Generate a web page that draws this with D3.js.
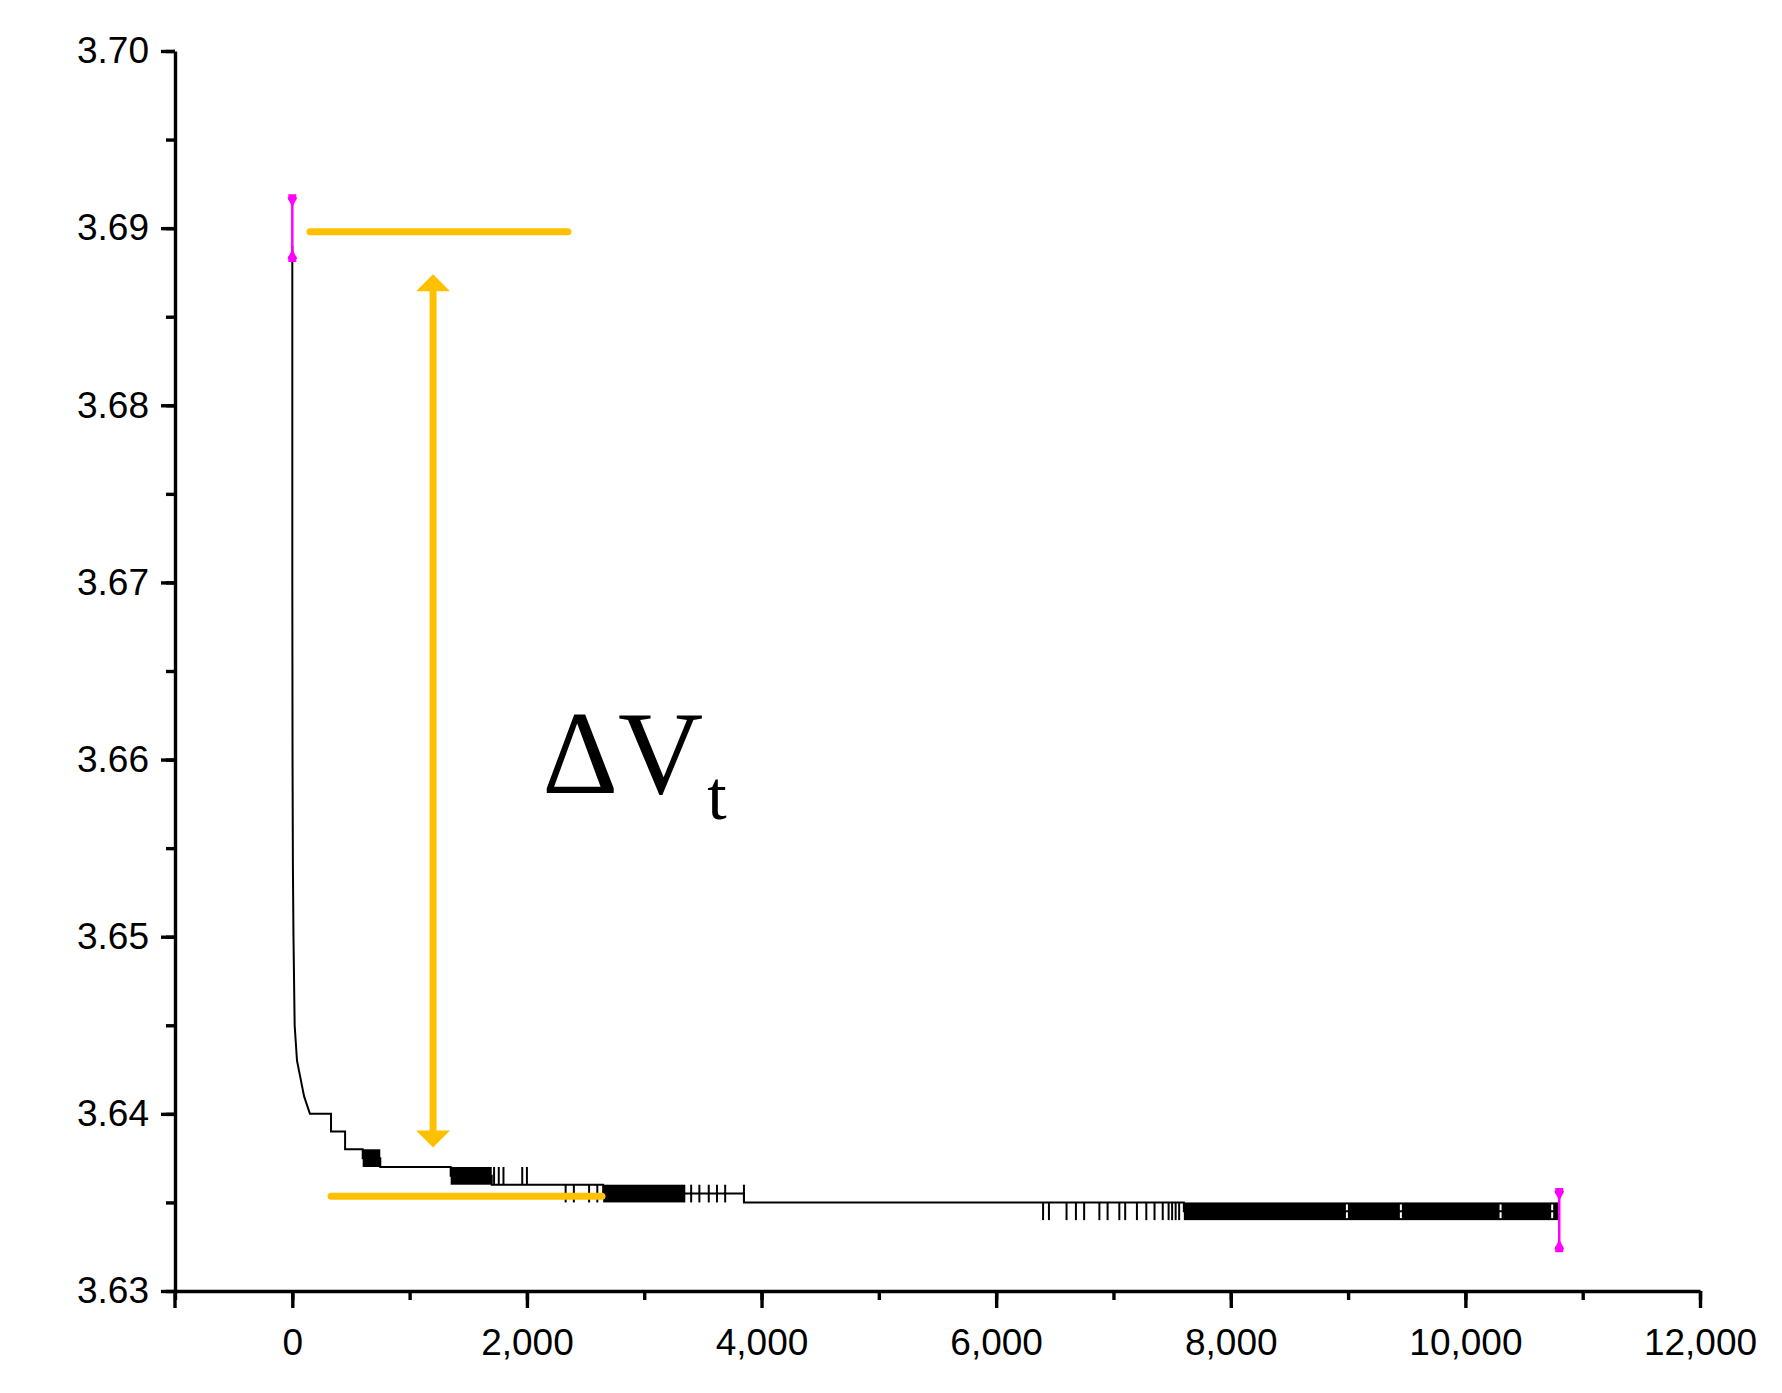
<!DOCTYPE html>
<html lang="en">
<head>
<meta charset="UTF-8">
<title>Voltage relaxation</title>
<script src="https://d3js.org/d3.v7.min.js"></script>
<style>
    body { margin: 0; background: #fff; }
    .axis path, .axis line { stroke: #000; stroke-width: 3.4px; }
    .axis text { font-family: "Liberation Sans", Arial, sans-serif; font-size: 37px; fill: #000; }
</style>
</head>
<body>
<svg id="chart" width="1782" height="1393"></svg>
<script>
// main stepped curve (time s, voltage V)
const curveTime = [0, 0, 2, 5, 10, 20, 40, 70, 100, 150, 200, 330, 330, 450, 450, 600, 600, 750, 750, 1350, 1350, 1700, 1700, 2650, 2650, 3850, 3850, 7600, 7600, 10800];
const curveVolt = [3.6890, 3.6700, 3.6600, 3.6540, 3.6500, 3.6450, 3.6430, 3.6420, 3.6410, 3.6400, 3.6400, 3.6400, 3.6390, 3.6390, 3.6380, 3.6380, 3.6375, 3.6375, 3.6370, 3.6370, 3.6365, 3.6365, 3.6360, 3.6360, 3.6355, 3.6355, 3.6350, 3.6350, 3.6345, 3.6345];
// dense toggling blocks: [start, end, upper level]
const blockStart = [600, 1350, 2650, 7600];
const blockEnd = [750, 1700, 3350, 10800];
const blockLevel = [3.638, 3.637, 3.636, 3.635];
// gaps (white) inside blocks
const gapTime = [8990, 9450, 10300, 10740];
const gapLevel = [3.635, 3.635, 3.635, 3.635];
// isolated spikes down by one step
const spikeTime = [1720, 1760, 1800, 1960, 2000, 2330, 2400, 2530, 2600, 3400, 3470, 3550, 3620, 3690, 3850,
    6400, 6450, 6600, 6680, 6750, 6880, 6950, 7050, 7100, 7200, 7280, 7350, 7420, 7470, 7500, 7530, 7560];
const spikeLevel = [3.637, 3.637, 3.637, 3.637, 3.637, 3.636, 3.636, 3.636, 3.636, 3.636, 3.636, 3.636, 3.636, 3.636, 3.636,
    3.635, 3.635, 3.635, 3.635, 3.635, 3.635, 3.635, 3.635, 3.635, 3.635, 3.635, 3.635, 3.635, 3.635, 3.635, 3.635, 3.635];
// magenta end markers
const markTime = [0, 10800];
const markLow = [3.6882, 3.6323];
const markHigh = [3.6918, 3.6357];
// orange annotation
const refLineX1 = [150, 330];
const refLineX2 = [2350, 2640];
const refLineY = [3.6898, 3.63535];
const arrowX = 1200, arrowTop = 3.6874, arrowBottom = 3.6381;

const xTicks = [0, 2000, 4000, 6000, 8000, 10000, 12000];
const yTicks = [3.63, 3.64, 3.65, 3.66, 3.67, 3.68, 3.69, 3.70];

const svg = d3.select("#chart");
const margin = { top: 51, left: 175 };
const width = 1525, height = 1240;
const g = svg.append("g").attr("transform", `translate(${margin.left},${margin.top})`);

const x = d3.scaleLinear().domain([-1000, 12000]).range([0, width]);
const y = d3.scaleLinear().domain([3.63, 3.70]).range([height, 0]);
const step = 0.001;

// minor ticks
g.append("g").attr("class", "axis")
    .attr("transform", `translate(0,${height})`)
    .call(d3.axisBottom(x).tickValues(d3.range(-1000, 12001, 1000)).tickSize(9).tickFormat(""))
    .select(".domain").remove();
g.append("g").attr("class", "axis")
    .call(d3.axisLeft(y).tickValues(d3.range(3.63, 3.7001, 0.005)).tickSize(9).tickFormat(""))
    .select(".domain").remove();

// major axes
g.append("g").attr("class", "axis")
    .attr("transform", `translate(0,${height})`)
    .call(d3.axisBottom(x).tickValues(xTicks).tickSize(17).tickSizeOuter(0).tickPadding(20))
    .call(a => a.selectAll("text").attr("dy", "0.72em"));
g.append("g").attr("class", "axis")
    .call(d3.axisLeft(y).tickValues(yTicks).tickSize(14).tickSizeOuter(0).tickPadding(12).tickFormat(d3.format(".2f")));
// left end tick of x axis
g.append("line").attr("x1", x(-1000)).attr("x2", x(-1000)).attr("y1", height).attr("y2", height + 17)
    .attr("stroke", "#000").attr("stroke-width", 3.4);

// blocks
g.selectAll(".block").data(blockStart).enter().append("rect")
    .attr("x", (d, i) => x(d)).attr("width", (d, i) => x(blockEnd[i]) - x(d))
    .attr("y", (d, i) => y(blockLevel[i])).attr("height", (d, i) => y(blockLevel[i] - step) - y(blockLevel[i]))
    .attr("fill", "#000");
g.selectAll(".gap").data(gapTime).enter().append("line")
    .attr("x1", d => x(d)).attr("x2", d => x(d))
    .attr("y1", (d, i) => y(gapLevel[i]) + 2).attr("y2", (d, i) => y(gapLevel[i] - step) - 2)
    .attr("stroke", "#fff").attr("stroke-width", 2);
g.selectAll(".spike").data(spikeTime).enter().append("line")
    .attr("x1", d => x(d)).attr("x2", d => x(d))
    .attr("y1", (d, i) => y(spikeLevel[i])).attr("y2", (d, i) => y(spikeLevel[i] - step))
    .attr("stroke", "#000").attr("stroke-width", 2);

// main curve
g.append("path")
    .datum(curveTime.map((t, i) => [t, curveVolt[i]]))
    .attr("fill", "none").attr("stroke", "#000").attr("stroke-width", 2)
    .attr("d", d3.line().x(d => x(d[0])).y(d => y(d[1])));

// magenta markers
markTime.forEach((t, i) => {
    const cx = x(t);
    g.append("line").attr("x1", cx).attr("x2", cx).attr("y1", y(markHigh[i])).attr("y2", y(markLow[i]))
        .attr("stroke", "#ff00ff").attr("stroke-width", 2.5);
    [[y(markHigh[i]) + 5, -1], [y(markLow[i]) - 5, 1]].forEach(([yy, dir]) => {
        g.append("path")
            .attr("d", `M${cx - 5},${yy + dir * 4}L${cx + 5},${yy + dir * 4}L${cx},${yy - dir * 6}Z`)
            .attr("fill", "#ff00ff");
        g.append("rect").attr("x", cx - 4).attr("y", yy + dir * 4 - 3).attr("width", 8).attr("height", 6).attr("fill", "#ff00ff");
    });
});

// orange annotation
const orange = "#ffc000";
refLineX1.forEach((x1, i) => {
    g.append("line").attr("x1", x(x1)).attr("x2", x(refLineX2[i]))
        .attr("y1", y(refLineY[i])).attr("y2", y(refLineY[i]))
        .attr("stroke", orange).attr("stroke-width", 7).attr("stroke-linecap", "round");
});
const ax = x(arrowX), at = y(arrowTop), ab = y(arrowBottom);
g.append("line").attr("x1", ax).attr("x2", ax).attr("y1", at + 14).attr("y2", ab - 14)
    .attr("stroke", orange).attr("stroke-width", 7);
g.append("path").attr("d", `M${ax - 17},${at + 17}L${ax + 17},${at + 17}L${ax},${at}Z`).attr("fill", orange);
g.append("path").attr("d", `M${ax - 17},${ab - 17}L${ax + 17},${ab - 17}L${ax},${ab}Z`).attr("fill", orange);

// label
const lbl = g.append("text").attr("x", x(2130)).attr("y", y(3.6581))
    .attr("font-family", "'Liberation Serif', 'Times New Roman', serif").attr("font-size", 118).attr("fill", "#000");
lbl.append("tspan").text("ΔV");
lbl.append("tspan").attr("font-size", 70).attr("dx", 4).attr("dy", 26).text("t");
</script>
</body>
</html>
